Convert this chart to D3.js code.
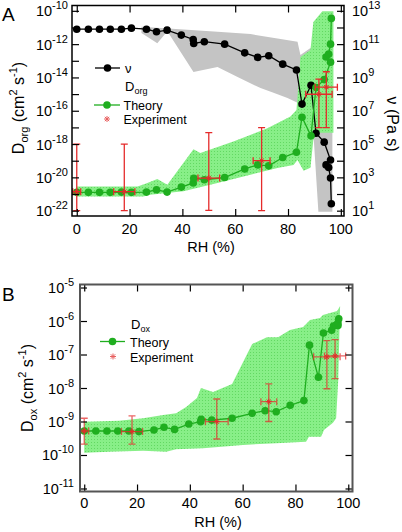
<!DOCTYPE html>
<html><head><meta charset="utf-8">
<script src="https://cdn.jsdelivr.net/npm/d3@7"></script>
<style>body{margin:0;background:#fff} text{font-family:"Liberation Sans",Arial,Helvetica,sans-serif}</style>
</head><body><svg id="c" width="402" height="532"></svg>
<script>
// ---------- DATA ----------
const RH = [0, 4.4, 8.6, 12.7, 16.9, 20.7, 26.4, 30.2, 34.2, 39.6, 44.1, 44.3, 48.3, 56.0, 63.6, 68.5, 72.7, 78.0, 83.2, 85.3, 88.7, 90.6, 93.7, 96.1, 94.4, 95.4, 96.1, 96.4];
const nuTheory = [7.9e11, 7.9e11, 7.9e11, 7.9e11, 7.9e11, 9.1e11, 7.9e11, 5.5e11, 6.9e11, 3.5e11, 1.9e11, 1.1e11, 1.4e11, 1.0e11, 3.0e10, 1.6e10, 2.0e10, 6.3e9, 2.8e9, 2.5e7, 3.4e8, 4.5e5, 1.3e5, 1.1e4, 5.6e3, 3.9e3, 910, 26];
const DorgTheory = [1.26e-21, 1.26e-21, 1.26e-21, 1.26e-21, 1.3e-21, 1.26e-21, 1.3e-21, 1.8e-21, 1.3e-21, 2.6e-21, 4.6e-21, 8.9e-21, 7.2e-21, 9.8e-21, 3.2e-20, 5.6e-20, 4.9e-20, 1.55e-19, 3.2e-19, 4.1e-17, 3.1e-18, 2.5e-15, 7.4e-15, 8.3e-14, 1.7e-13, 2.5e-13, 1.0e-12, 3.5e-11];
const DoxTheory = [5.2e-10, 5.2e-10, 5.2e-10, 5.2e-10, 5.2e-10, 5.0e-10, 5.6e-10, 6.7e-10, 5.8e-10, 8.4e-10, 9.9e-10, 1.16e-9, 1.1e-9, 1.25e-9, 1.76e-9, 2.1e-9, 1.96e-9, 3.05e-9, 4.2e-9, 1.9e-7, 2.1e-8, 4.4e-7, 5.3e-7, 7.3e-7, 7.1e-7, 7.6e-7, 8.7e-7, 1.17e-6];

// uncertainty bands (edges)
const orgBandUpperRH = [0, 23.0, 26.0, 30.5, 34.3, 44.2, 46.8, 59.3, 72.2, 80.9, 83.2, 84.7, 88.5, 89.6, 93.0, 97.2];
const orgBandUpper = [2.85e-21, 2.85e-21, 4.2e-21, 7.9e-21, 3.6e-21, 4.9e-19, 2.9e-19, 1.4e-18, 8.9e-18, 4.5e-17, 1.1e-16, 1.66e-13, 4.4e-13, 2.1e-11, 9.5e-11, 9.5e-11];
const orgBandLowerRH = [0, 25.2, 27.9, 40.4, 53.3, 65.8, 76.0, 82.1, 83.6, 85.9, 88.5, 89.6, 90.8, 97.2];
const orgBandLower = [7.2e-22, 7.2e-22, 9.1e-22, 1.45e-21, 4.6e-21, 1.45e-20, 3.6e-20, 5.6e-20, 1.12e-19, 2.5e-20, 3.8e-20, 1.8e-18, 4.7e-18, 4.7e-18];

const nuBandUpperRH = [24.5, 40.4, 53.3, 65.8, 76.0, 83.6, 84.7, 88.9, 90.0, 96.8];
const nuBandUpper = [1.1e12, 7.6e11, 5.5e11, 4.0e11, 2.2e11, 1.4e11, 2.2e10, 6.6e10, 1.1e10, 1.1e10];
const nuBandLowerRH = [24.5, 30.5, 34.3, 44.2, 53.3, 60.9, 69.6, 74.5, 79.8, 83.6, 85.5, 88.5, 89.6, 90.8, 91.5, 96.8];
const nuBandLower = [4.6e11, 1.15e11, 6.0e11, 2.1e9, 4.2e9, 1.05e9, 2.3e8, 1.2e8, 5.9e7, 3.0e7, 8.5e6, 1.4e6, 4.7e5, 480, 8.7, 8.7];

const oxBandUpperRH = [0, 13.2, 22.3, 29.9, 34.8, 38.6, 42.7, 44.2, 48.8, 56.0, 63.6, 69.2, 73.4, 77.9, 82.9, 85.5, 89.3, 90.4, 95.8, 96.9];
const oxBandUpper = [9.9e-10, 1.06e-9, 1.25e-9, 1.56e-9, 1.76e-9, 2.7e-9, 5.0e-9, 1.0e-8, 7.6e-9, 1.32e-8, 2.06e-7, 3.3e-7, 3.3e-7, 5.4e-7, 6.6e-7, 1.07e-6, 1.23e-6, 1.51e-6, 1.99e-6, 2.8e-6];
const oxBandLowerRH = [0, 9.4, 22.3, 31.0, 34.8, 45.0, 60.1, 72.7, 84.0, 85.1, 89.7, 90.8, 94.2, 95.4, 96.2, 96.9];
const oxBandLower = [1.17e-10, 1.26e-10, 1.35e-10, 1.26e-10, 1.48e-10, 1.58e-10, 2.0e-10, 2.24e-10, 2.5e-10, 3.5e-10, 3.5e-10, 5.6e-10, 9.1e-10, 1.26e-9, 1.74e-8, 2.8e-6];

// experiments
const expOrgRH = [0, 18, 50, 70, 91.7, 94.5];
const expOrgRHerr = [1.5, 4, 4.1, 3.2, 5, 4.2];
const expOrgD = [1.38e-21, 1.38e-21, 9.1e-21, 1.0e-19, 9.8e-16, 2.6e-15];
const expOrgDlow = [1e-22, 1e-22, 1.05e-22, 1e-22, 9.8e-18, 9.8e-18];
const expOrgDhigh = [1e-18, 1e-18, 4.9e-18, 9.8e-18, 7.9e-15, 2.2e-14];

const expOxRH = [0, 18.1, 50.2, 69.9, 91.9, 95.0];
const expOxRHerr = [1.7, 4, 4.3, 3, 5, 4];
const expOxD = [5.2e-10, 5.0e-10, 9.9e-10, 3.9e-9, 8.5e-8, 9.1e-8];
const expOxDlow = [2.1e-10, 2.1e-10, 3.0e-10, 1.0e-9, 9.5e-9, 1.9e-8];
const expOxDhigh = [1.25e-9, 1.48e-9, 4.7e-9, 1.32e-8, 2.6e-7, 2.8e-7];

const xTicks = [0, 20, 40, 60, 80, 100];
const orgExp = [-22, -21, -20, -19, -18, -17, -16, -15, -14, -13, -12, -11, -10];
const orgLabelExp = [-22, -20, -18, -16, -14, -12, -10];
const nuExp = [1,2,3,4,5,6,7,8,9,10,11,12,13];
const nuLabelExp = [1, 3, 5, 7, 9, 11, 13];
const oxExp = [-11, -10, -9, -8, -7, -6, -5];

// ---------- DRAW ----------
const svg = d3.select("#c");
const GREEN = "#1fae1f", RED = "#e52b2b";
const defs = svg.append("defs");
const pat = defs.append("pattern").attr("id","stip").attr("width",3).attr("height",3).attr("patternUnits","userSpaceOnUse");
pat.append("rect").attr("width",3).attr("height",3).attr("fill","#88ef88");
pat.append("rect").attr("x",1).attr("y",1).attr("width",1).attr("height",1).attr("fill","#62d862");

function band(g, x, y, upRH, up, loRH, lo, fill){
  const pts = upRH.map((r,i)=>[x(r), y(up[i])]).concat(loRH.map((r,i)=>[x(r), y(lo[i])]).reverse());
  g.append("path").attr("d", d3.line()(pts) + "Z").attr("fill", fill);
}
function series(g, x, y, xs, ys, color, r){
  const pts = xs.map((v,i)=>[x(v), y(ys[i])]);
  g.append("path").attr("d", d3.line()(pts)).attr("fill","none").attr("stroke",color).attr("stroke-width",1.3);
  g.selectAll(null).data(pts).enter().append("circle").attr("cx",d=>d[0]).attr("cy",d=>d[1]).attr("r",r).attr("fill",color);
}
function star(g, cx, cy, s, color, w){
  const d = s*0.72;
  g.append("path").attr("d",`M${cx-s},${cy}L${cx+s},${cy}M${cx},${cy-s}L${cx},${cy+s}M${cx-d},${cy-d}L${cx+d},${cy+d}M${cx-d},${cy+d}L${cx+d},${cy-d}`)
    .attr("stroke",color).attr("stroke-width",w||1).attr("fill","none");
}
function errbars(g, x, y, rh, rherr, v, lo, hi, color, op){
  const gg = g.append("g").attr("stroke",color).attr("stroke-width",1.3).attr("fill","none").attr("opacity",op);
  rh.forEach((r,i)=>{
    const cx = x(r), cy = y(v[i]), y1 = y(hi[i]), y2 = y(lo[i]), x1 = x(r-rherr[i]), x2 = x(r+rherr[i]);
    gg.append("path").attr("d",`M${cx},${y1}L${cx},${y2}M${cx-3.5},${y1}L${cx+3.5},${y1}M${cx-3.5},${y2}L${cx+3.5},${y2}M${x1},${cy}L${x2},${cy}M${x1},${cy-3.5}L${x1},${cy+3.5}M${x2},${cy-3.5}L${x2},${cy+3.5}`);
    star(g, cx, cy, 3, color, 1);
  });
}
function supLabel(g, x, y, anchor, base, sup, fs, sfs){
  const t = g.append("text").attr("x",x).attr("y",y).attr("text-anchor",anchor).attr("font-size",fs).attr("fill","#000");
  t.append("tspan").text(base);
  t.append("tspan").attr("dy",-7).attr("font-size",sfs).text(sup);
}

// ===== Panel A =====
const A = {l:72, r:344, t:5.5, b:216};
const xA = d3.scaleLinear().domain([-1.8, 101.2]).range([A.l, A.r]);
const yA = d3.scaleLog().domain([Math.pow(10,-22.32), Math.pow(10,-9.68)]).range([A.b, A.t]);
const yNu = d3.scaleLog().domain([Math.pow(10,0.68), Math.pow(10,13.32)]).range([A.b, A.t]);
defs.append("clipPath").attr("id","clipA").append("rect").attr("x",A.l).attr("y",A.t).attr("width",A.r-A.l).attr("height",A.b-A.t);
const gA = svg.append("g").attr("clip-path","url(#clipA)");
band(gA, xA, yNu, nuBandUpperRH, nuBandUpper, nuBandLowerRH, nuBandLower, "#c4c4c4");
band(gA, xA, yA, orgBandUpperRH, orgBandUpper, orgBandLowerRH, orgBandLower, "url(#stip)");
series(gA, xA, yNu, RH, nuTheory, "#000", 3.8);
series(gA, xA, yA, RH, DorgTheory, GREEN, 3.8);
errbars(gA, xA, yA, expOrgRH, expOrgRHerr, expOrgD, expOrgDlow, expOrgDhigh, RED, 1);

function axesFrame(x, y, yR, P, yTickVals, yRTickVals, frameColor, frameW){
  const ax = svg.append("g").attr("stroke-width",1.2);
  const mk = (sel)=>{ sel.select(".domain").remove(); sel.selectAll("line").attr("stroke","#000"); };
  ax.append("g").attr("transform",`translate(0,${P.b})`).call(d3.axisBottom(x).tickValues(xTicks).tickSize(-7).tickFormat("")).call(mk);
  ax.append("g").attr("transform",`translate(0,${P.t})`).call(d3.axisTop(x).tickValues(xTicks).tickSize(-7).tickFormat("")).call(mk);
  ax.append("g").attr("transform",`translate(${P.l},0)`).call(d3.axisLeft(y).tickValues(yTickVals).tickSize(-7).tickFormat("")).call(mk);
  ax.append("g").attr("transform",`translate(${P.r},0)`).call(d3.axisRight(yR).tickValues(yRTickVals).tickSize(-7).tickFormat("")).call(mk);
  svg.append("rect").attr("x",P.l).attr("y",P.t).attr("width",P.r-P.l).attr("height",P.b-P.t).attr("fill","none").attr("stroke",frameColor).attr("stroke-width",frameW);
}
axesFrame(xA, yA, yNu, A, orgExp.map(e=>Math.pow(10,e)), nuExp.map(e=>Math.pow(10,e)), "#000", 1.5);

// tick labels A
const lab = svg.append("g");
orgLabelExp.forEach(e=> supLabel(lab, 68, yA(Math.pow(10,e))+5.5, "end", "10", String(e), 14.5, 11));
nuLabelExp.forEach(e=> supLabel(lab, 352, yNu(Math.pow(10,e))+5.5, "start", "10", String(e), 14.5, 11));
xTicks.forEach(v=> lab.append("text").attr("x",xA(v)).attr("y",234).attr("text-anchor","middle").attr("font-size",14.5).text(v));
lab.append("text").attr("x",211).attr("y",251.5).attr("text-anchor","middle").attr("font-size",14.5).text("RH (%)");
lab.append("text").attr("x",2).attr("y",20.5).attr("font-size",19).text("A");
lab.append("text").attr("x",2).attr("y",301).attr("font-size",19).text("B");

function dTitle(x, y, sub){
  const t = lab.append("text").attr("transform",`translate(${x},${y}) rotate(-90)`).attr("text-anchor","middle").attr("font-size",16);
  t.append("tspan").text("D");
  t.append("tspan").attr("dy",4).attr("font-size",11).text(sub);
  t.append("tspan").attr("dy",-4).text(" (cm");
  t.append("tspan").attr("dy",-7).attr("font-size",11).text("2");
  t.append("tspan").attr("dy",7).text(" s");
  t.append("tspan").attr("dy",-7).attr("font-size",11).text("-1");
  t.append("tspan").attr("dy",7).text(")");
}
dTitle(24, 108, "org");
lab.append("text").attr("transform","translate(387,124) rotate(90)").attr("text-anchor","middle").attr("font-size",16).text("ν (Pa s)");

// legend A
const lg = svg.append("g");
lg.append("line").attr("x1",95).attr("x2",120).attr("y1",68).attr("y2",68).attr("stroke","#000").attr("stroke-width",1.3);
lg.append("circle").attr("cx",107.5).attr("cy",68).attr("r",3.8).attr("fill","#000");
lg.append("text").attr("x",125).attr("y",72.5).attr("font-size",13).text("ν");
const tD = lg.append("text").attr("x",125).attr("y",91).attr("font-size",13);
tD.append("tspan").text("D"); tD.append("tspan").attr("dy",3).attr("font-size",9).text("org");
lg.append("line").attr("x1",94).attr("x2",120).attr("y1",105).attr("y2",105).attr("stroke",GREEN).attr("stroke-width",1.3);
lg.append("circle").attr("cx",107).attr("cy",105).attr("r",3.8).attr("fill",GREEN);
lg.append("text").attr("x",123.5).attr("y",109.5).attr("font-size",12.5).text("Theory");
star(lg, 107, 119, 3, "#e86060", 1);
lg.append("text").attr("x",123.5).attr("y",123.5).attr("font-size",12.5).text("Experiment");

// ===== Panel B =====
const B = {l:80, r:352.5, t:284.5, b:491.5};
const xB = d3.scaleLinear().domain([-1.6, 101.6]).range([B.l, B.r]);
const yB = d3.scaleLog().domain([Math.pow(10,-11.09), Math.pow(10,-4.91)]).range([B.b, B.t]);
defs.append("clipPath").attr("id","clipB").append("rect").attr("x",B.l).attr("y",B.t).attr("width",B.r-B.l).attr("height",B.b-B.t);
const gB = svg.append("g").attr("clip-path","url(#clipB)");
band(gB, xB, yB, oxBandUpperRH, oxBandUpper, oxBandLowerRH, oxBandLower, "url(#stip)");
series(gB, xB, yB, RH, DoxTheory, GREEN, 3.8);
errbars(gB, xB, yB, expOxRH, expOxRHerr, expOxD, expOxDlow, expOxDhigh, RED, 0.72);
axesFrame(xB, yB, yB, B, oxExp.map(e=>Math.pow(10,e)), oxExp.map(e=>Math.pow(10,e)), "#555", 2);

oxExp.forEach(e=> supLabel(lab, 74, yB(Math.pow(10,e))+5.5, "end", "10", String(e), 14.5, 11));
xTicks.forEach(v=> lab.append("text").attr("x",xB(v)).attr("y",508).attr("text-anchor","middle").attr("font-size",14.5).text(v));
lab.append("text").attr("x",218).attr("y",527).attr("text-anchor","middle").attr("font-size",14.5).text("RH (%)");
dTitle(33, 388, "ox");

// legend B
const tD2 = lg.append("text").attr("x",131).attr("y",328.5).attr("font-size",13);
tD2.append("tspan").text("D"); tD2.append("tspan").attr("dy",3).attr("font-size",9).text("ox");
lg.append("line").attr("x1",100).attr("x2",125).attr("y1",341.5).attr("y2",341.5).attr("stroke",GREEN).attr("stroke-width",1.3);
lg.append("circle").attr("cx",112.5).attr("cy",341.5).attr("r",3.8).attr("fill",GREEN);
lg.append("text").attr("x",130).attr("y",346.5).attr("font-size",12.5).text("Theory");
star(lg, 113, 356.5, 3, "#e86060", 1);
lg.append("text").attr("x",130).attr("y",361.5).attr("font-size",12.5).text("Experiment");
</script></body></html>
